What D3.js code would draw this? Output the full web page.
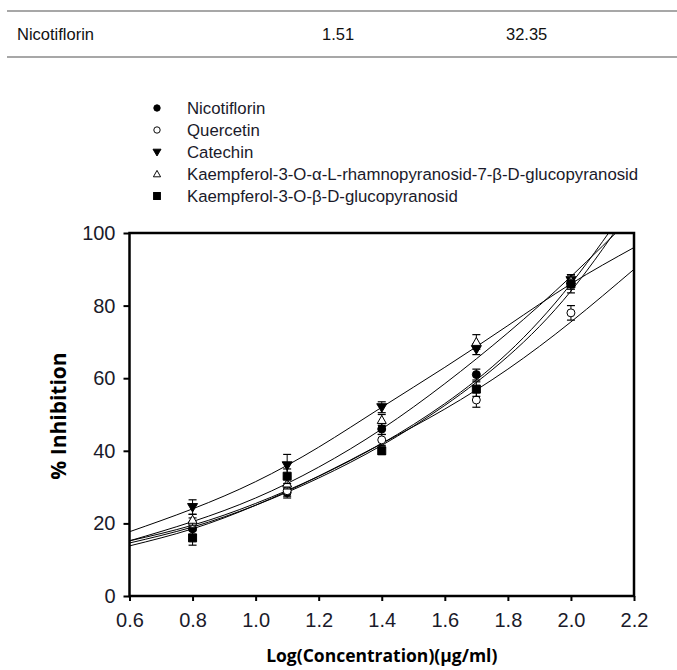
<!DOCTYPE html>
<html>
<head>
<meta charset="utf-8">
<script src="https://cdn.jsdelivr.net/npm/d3@7"></script>
<style>
  body { margin: 0; background: #fff; }
  svg { display: block; }
</style>
</head>
<body>
<svg id="chart" width="677" height="670"></svg>
<script>
// table row above the chart
const tableRow = ['Nicotiflorin', '1.51', '32.35'];

// measured points: x = log concentration
const doses = [0.8, 1.1, 1.4, 1.7, 2.0];
const nicotiflorin = [18.5, 28.5, 46, 61, 86];
const nicotiflorinErr = [1.5, 1.5, 1.5, 1.5, 1.5];
const quercetin = [20, 29, 43, 54, 78];
const quercetinErr = [1.5, 1.5, 1.5, 2, 2];
const catechin = [24.5, 36, 52, 68, 87];
const catechinErr = [2, 3, 1.5, 1.5, 1.5];
const kaempRham = [21, 31, 48.5, 70, 87];
const kaempRhamErr = [1.5, 1.5, 1.5, 2, 1.5];
const kaempGluco = [16, 33, 40, 57, 86];
const kaempGlucoErr = [2, 2, 1, 2, 2.5];

// fitted curves, read at these x positions
const fitX = [0.6, 0.8, 1.0, 1.2, 1.4, 1.6, 1.8, 2.0, 2.2];
const nicotiflorinFit = [15.2, 19.5, 25.5, 33, 42, 53, 67, 86, 110];
const quercetinFit = [13.8, 18.5, 25, 33, 42, 51.5, 62.5, 75.5, 90];
const catechinFit = [17.7, 24, 31.5, 41, 52, 63, 74.5, 86, 96];
const kaempRhamFit = [15.2, 20.5, 27, 35.5, 46, 58.5, 72.5, 88, 105];
const kaempGlucoFit = [14.6, 19, 25, 32.5, 41.5, 52.5, 66, 84, 108];

const xTicks = [0.6, 0.8, 1.0, 1.2, 1.4, 1.6, 1.8, 2.0, 2.2];
const yTicks = [0, 20, 40, 60, 80, 100];

const series = [
  { name: 'Nicotiflorin', sym: 'circle', fill: '#000', y: nicotiflorin, err: nicotiflorinErr, fit: nicotiflorinFit },
  { name: 'Quercetin', sym: 'circle', fill: '#fff', y: quercetin, err: quercetinErr, fit: quercetinFit },
  { name: 'Catechin', sym: 'tridown', fill: '#000', y: catechin, err: catechinErr, fit: catechinFit },
  { name: 'Kaempferol-3-O-\u03b1-L-rhamnopyranosid-7-\u03b2-D-glucopyranosid', sym: 'triup', fill: '#fff', y: kaempRham, err: kaempRhamErr, fit: kaempRhamFit },
  { name: 'Kaempferol-3-O-\u03b2-D-glucopyranosid', sym: 'square', fill: '#000', y: kaempGluco, err: kaempGlucoErr, fit: kaempGlucoFit }
];

const svg = d3.select('#chart');
const font = 'Liberation Sans, Arial, sans-serif';

// table lines and text
svg.append('line').attr('x1', 7).attr('x2', 677).attr('y1', 11).attr('y2', 11)
  .attr('stroke', '#8a8a8a').attr('stroke-width', 1.5);
svg.append('line').attr('x1', 7).attr('x2', 677).attr('y1', 57).attr('y2', 57)
  .attr('stroke', '#8a8a8a').attr('stroke-width', 1.5);
const tableX = [17, 322, 506];
tableRow.forEach((t, i) => {
  svg.append('text').attr('x', tableX[i]).attr('y', 40)
    .attr('font-family', font).attr('font-size', 16.5).attr('fill', '#111').text(t);
});

const margin = { left: 129.5, right: 634, top: 233, bottom: 596 };
const x = d3.scaleLinear().domain([0.6, 2.2]).range([margin.left, margin.right]);
const y = d3.scaleLinear().domain([0, 100]).range([margin.bottom, margin.top]);

function symbolPath(sym) {
  if (sym === 'circle') return d3.symbol(d3.symbolCircle, 50)();
  if (sym === 'square') return d3.symbol(d3.symbolSquare, 64)();
  if (sym === 'triup') return 'M0,-4.5L4.5,3.5L-4.5,3.5Z';
  return 'M-5,-3.5L5,-3.5L0,5Z';
}

svg.append('defs').append('clipPath').attr('id', 'clip')
  .append('rect').attr('x', margin.left).attr('y', margin.top)
  .attr('width', margin.right - margin.left).attr('height', margin.bottom - margin.top);

// fitted curves
const line = d3.line().x((d, i) => x(fitX[i])).y(d => y(d)).curve(d3.curveNatural);
const curves = svg.append('g').attr('clip-path', 'url(#clip)');
series.forEach(s => {
  curves.append('path').datum(s.fit).attr('d', line)
    .attr('fill', 'none').attr('stroke', '#000').attr('stroke-width', 1);
});

// error bars and markers
const marks = svg.append('g');
series.forEach(s => {
  s.y.forEach((v, i) => {
    const cx = x(doses[i]);
    const g = marks.append('g');
    g.append('line').attr('x1', cx).attr('x2', cx)
      .attr('y1', y(v - s.err[i])).attr('y2', y(v + s.err[i]))
      .attr('stroke', '#000').attr('stroke-width', 1);
    [v - s.err[i], v + s.err[i]].forEach(e => {
      g.append('line').attr('x1', cx - 4).attr('x2', cx + 4)
        .attr('y1', y(e)).attr('y2', y(e))
        .attr('stroke', '#000').attr('stroke-width', 1.2);
    });
    g.append('path').attr('d', symbolPath(s.sym))
      .attr('transform', 'translate(' + cx + ',' + y(v) + ')')
      .attr('fill', s.fill).attr('stroke', '#000').attr('stroke-width', 1);
  });
});

// frame
svg.append('rect').attr('x', margin.left).attr('y', margin.top)
  .attr('width', margin.right - margin.left).attr('height', margin.bottom - margin.top)
  .attr('fill', 'none').attr('stroke', '#000').attr('stroke-width', 2.5);

// axes
const xAxis = svg.append('g')
  .attr('transform', 'translate(0,' + margin.bottom + ')')
  .call(d3.axisBottom(x).tickValues(xTicks).tickFormat(d3.format('.1f')).tickSize(5).tickPadding(12));
const yAxis = svg.append('g')
  .attr('transform', 'translate(' + margin.left + ',0)')
  .call(d3.axisLeft(y).tickValues(yTicks).tickSize(6).tickPadding(8));
[xAxis, yAxis].forEach(a => {
  a.select('.domain').remove();
  a.selectAll('.tick line').attr('stroke', '#000').attr('stroke-width', 2);
  a.selectAll('.tick text').attr('font-family', font).attr('font-size', 20).attr('fill', '#1a1a2a');
});

// axis titles
const titleFont = 'Open Sans, Lato, sans-serif';
svg.append('text').attr('x', (margin.left + margin.right) / 2).attr('y', 662)
  .attr('text-anchor', 'middle').attr('font-family', titleFont).attr('font-weight', 'bold')
  .attr('font-size', 17.5).attr('fill', '#000').text('Log(Concentration)(\u00b5g/ml)');
svg.append('text').attr('transform', 'translate(66,' + 416 + ') rotate(-90)')
  .attr('text-anchor', 'middle').attr('font-family', titleFont).attr('font-weight', 'bold')
  .attr('font-size', 21).attr('fill', '#000').text('% Inhibition');

// legend
const legend = svg.append('g');
series.forEach((s, i) => {
  const ly = 108 + i * 22;
  const sc = s.sym === 'square' ? 0.85 : 0.8;
  legend.append('path').attr('d', symbolPath(s.sym))
    .attr('transform', 'translate(157,' + ly + ') scale(' + sc + ')')
    .attr('fill', s.fill).attr('stroke', '#000').attr('stroke-width', 1.2);
  legend.append('text').attr('x', 187).attr('y', ly + 6)
    .attr('font-family', font).attr('font-size', 16.8).attr('fill', '#1a1a2a').text(s.name);
});
</script>
</body>
</html>
